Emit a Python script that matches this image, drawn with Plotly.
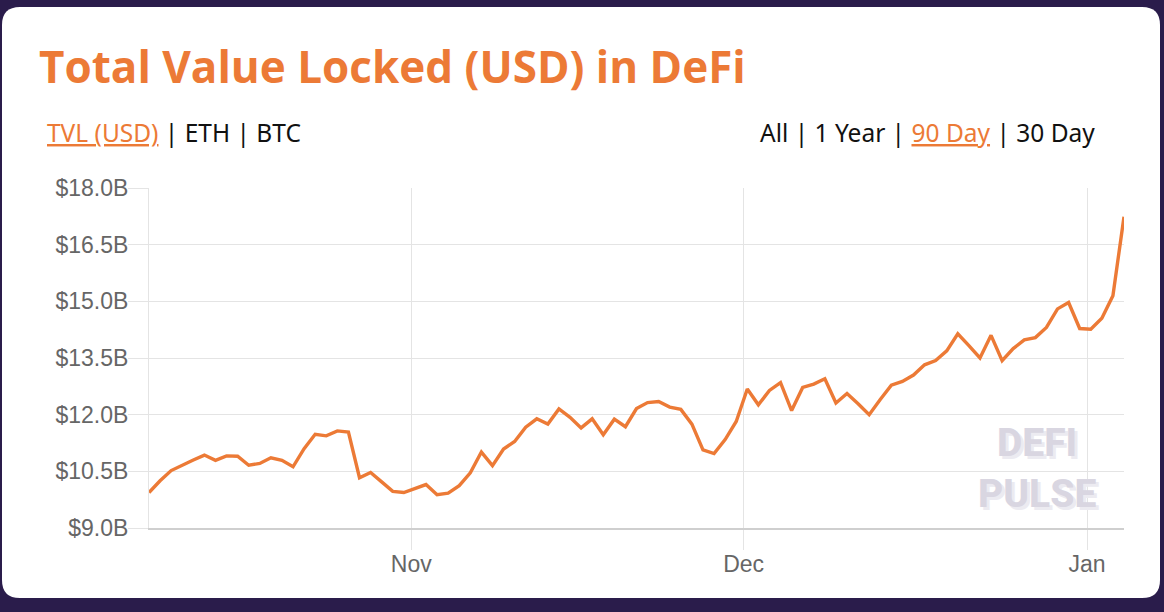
import plotly.graph_objects as go
import pandas as pd

# ---- data ----
start_date = "2020-10-08 08:00"
tvl_billion = [
    9.94, 10.25, 10.52, 10.67, 10.80, 10.93, 10.79, 10.91, 10.90, 10.66,
    10.71, 10.86, 10.79, 10.62, 11.10, 11.48, 11.44, 11.57, 11.54, 10.33,
    10.47, 10.22, 9.97, 9.94, 10.04, 10.15, 9.88, 9.92, 10.12, 10.46,
    11.01, 10.65, 11.09, 11.29, 11.67, 11.89, 11.75, 12.15, 11.93, 11.65,
    11.89, 11.47, 11.88, 11.68, 12.16, 12.32, 12.35, 12.20, 12.14, 11.75,
    11.07, 10.97, 11.34, 11.82, 12.68, 12.26, 12.64, 12.85, 12.11, 12.72,
    12.81, 12.95, 12.31, 12.56, 12.29, 12.00, 12.40, 12.78, 12.88, 13.05,
    13.32, 13.43, 13.69, 14.14, 13.83, 13.50, 14.10, 13.43, 13.75, 13.98,
    14.04, 14.31, 14.80, 14.97, 14.28, 14.26, 14.55, 15.15, 17.24,
]
dates = pd.date_range(start_date, periods=len(tvl_billion), freq="D")
y_ticks = [9.0, 10.5, 12.0, 13.5, 15.0, 16.5, 18.0]
y_tick_labels = [f"${v:.1f}B" for v in y_ticks]
x_ticks = ["2020-11-01", "2020-12-01", "2021-01-01"]
x_tick_labels = ["Nov", "Dec", "Jan"]

ORANGE = "#ec7a36"
GRID = "#e4e4e4"

W, H = 1164, 612
L, R, T, B = 149, 1124, 188, 528


def px(x):
    return (x - L) / (R - L)


def py(y):
    return (B - y) / (B - T)


fig = go.Figure()
fig.add_trace(go.Scatter(
    x=dates, y=tvl_billion, mode="lines",
    line=dict(color=ORANGE, width=3.4),
    hoverinfo="skip",
))

# rounded white card on dark background
cl, cr, ct, cb, rad = 2, 1160, 7, 598, 18
path = (
    f"M {px(cl + rad)} {py(ct)} L {px(cr - rad)} {py(ct)} "
    f"Q {px(cr)} {py(ct)} {px(cr)} {py(ct + rad)} "
    f"L {px(cr)} {py(cb - rad)} Q {px(cr)} {py(cb)} {px(cr - rad)} {py(cb)} "
    f"L {px(cl + rad)} {py(cb)} Q {px(cl)} {py(cb)} {px(cl)} {py(cb - rad)} "
    f"L {px(cl)} {py(ct + rad)} Q {px(cl)} {py(ct)} {px(cl + rad)} {py(ct)} Z"
)
fig.add_shape(type="path", path=path, xref="paper", yref="paper",
              fillcolor="white", line=dict(width=0), layer="below")

annotations = [
    dict(text="Total Value Locked (USD) in DeFi", x=px(37), y=py(66),
         xanchor="left", yanchor="middle",
         font=dict(family="Open Sans", size=44, color=ORANGE, weight=700)),
    dict(text=f"<span style='color:{ORANGE}'><u>TVL (USD)</u></span> | ETH | BTC",
         x=px(45), y=py(133), xanchor="left", yanchor="middle",
         font=dict(family="Noto Sans", size=24.5, color="#111111")),
    dict(text=f"All | 1 Year | <span style='color:{ORANGE}'><u>90 Day</u></span> | 30 Day",
         x=px(1097), y=py(133), xanchor="right", yanchor="middle",
         font=dict(family="Noto Sans", size=24.5, color="#111111")),
    dict(text="DEFI<br>PULSE", x=px(1037), y=py(468), xanchor="center",
         yanchor="middle", align="center",
         font=dict(family="Roboto", size=39, color="#d9d6e1", weight=800,
                   shadow="3px 3px 0px #ecebf1")),
]
for a in annotations:
    a.update(xref="paper", yref="paper", showarrow=False)

fig.update_layout(
    width=W, height=H,
    margin=dict(l=L, r=W - R, t=T, b=H - B),
    paper_bgcolor="#2a1c4b",
    plot_bgcolor="rgba(0,0,0,0)",
    showlegend=False,
    annotations=annotations,
    xaxis=dict(
        range=[dates[0], dates[-1]],
        tickvals=x_ticks, ticktext=x_tick_labels,
        showgrid=True, gridcolor=GRID, gridwidth=1,
        ticks="outside", ticklen=20, tickcolor=GRID, tickwidth=1,
        showline=True, linecolor="#cfcfcf", linewidth=1.5,
        zeroline=False, ticklabelstandoff=-5,
        tickfont=dict(family="Liberation Sans", size=23, color="#666666"),
    ),
    yaxis=dict(
        range=[9, 18],
        tickvals=y_ticks, ticktext=y_tick_labels,
        showgrid=True, gridcolor=GRID, gridwidth=1,
        ticks="outside", ticklen=20, tickcolor=GRID, tickwidth=1,
        showline=True, linecolor=GRID, linewidth=1,
        zeroline=False, ticklabelstandoff=-5,
        tickfont=dict(family="Liberation Sans", size=23, color="#666666"),
    ),
)

fig.write_html("out.html")
